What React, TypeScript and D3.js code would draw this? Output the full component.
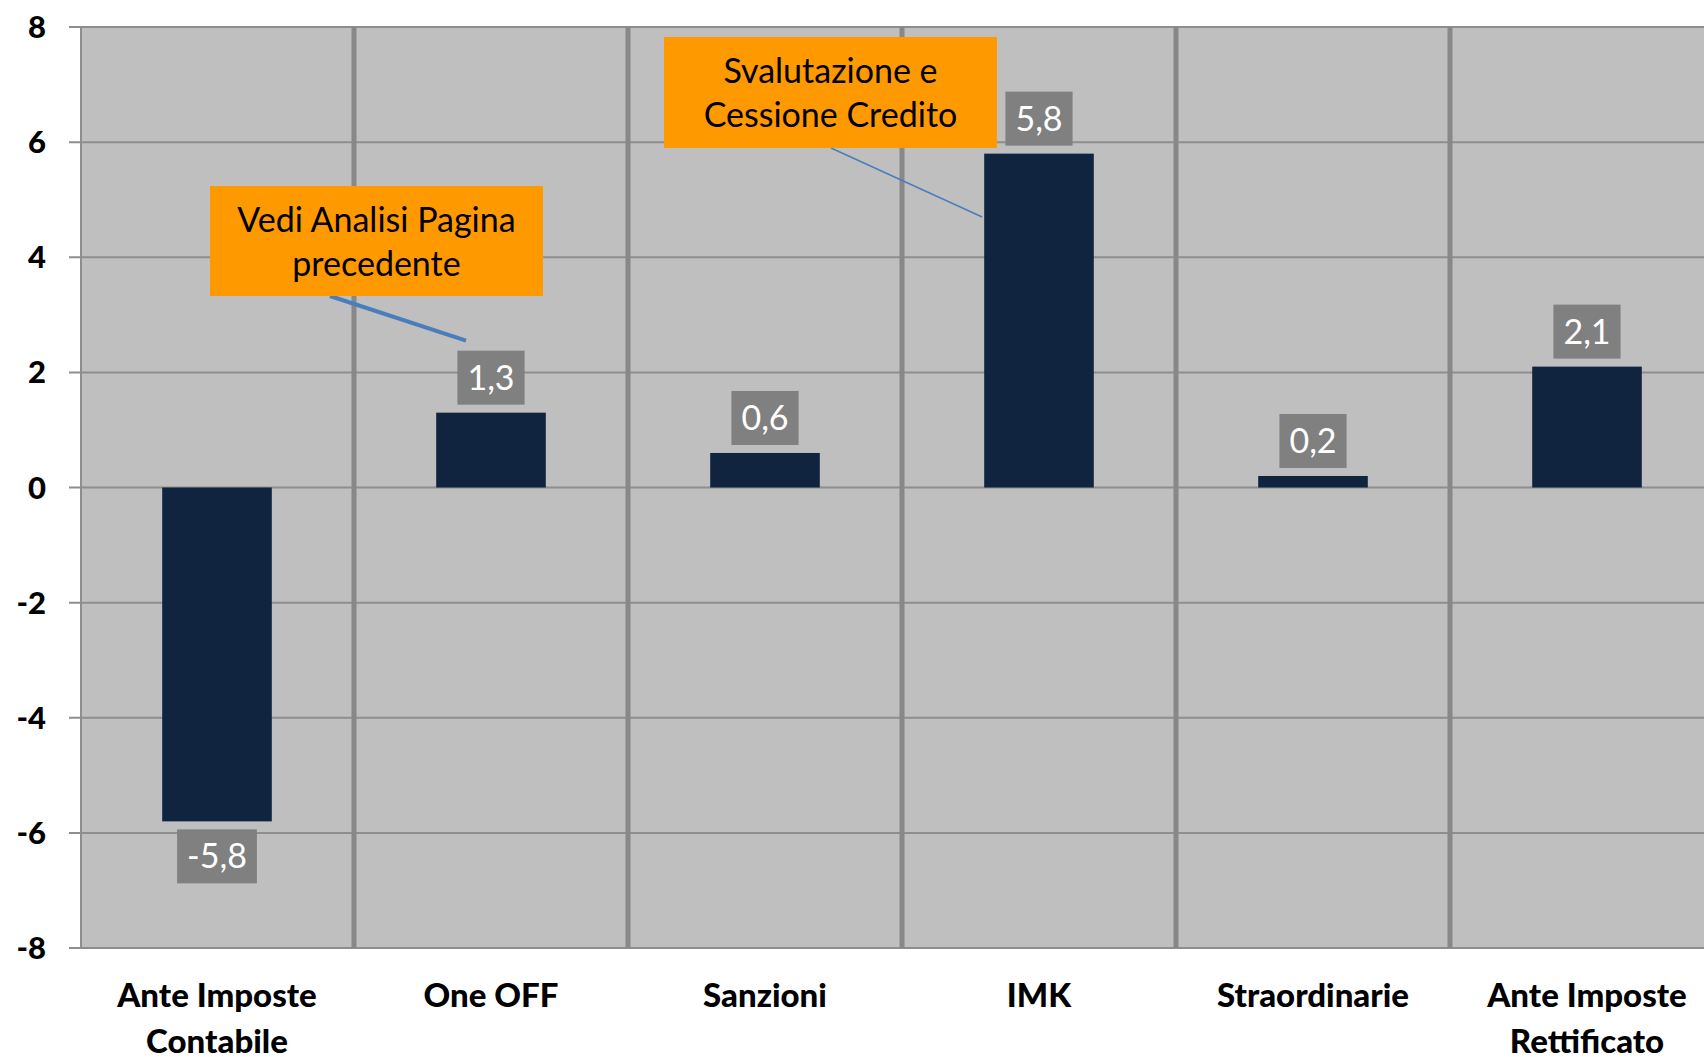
import * as d3 from "d3";
import React, { useEffect, useRef } from "react";

const W = 1704;
const H = 1057;

// data
const categories = ["Ante Imposte Contabile", "One OFF", "Sanzioni", "IMK", "Straordinarie", "Ante Imposte Rettificato"];
const categoryLines = [["Ante Imposte", "Contabile"], ["One OFF"], ["Sanzioni"], ["IMK"], ["Straordinarie"], ["Ante Imposte", "Rettificato"]];
const values = [-5.8, 1.3, 0.6, 5.8, 0.2, 2.1];
const yTicks = [-8, -6, -4, -2, 0, 2, 4, 6, 8];
const noteTexts = [["Vedi Analisi Pagina", "precedente"], ["Svalutazione e", "Cessione Credito"]];

const itLocale = d3.formatLocale({ decimal: ",", thousands: ".", grouping: [3], currency: ["€", ""], minus: "-" });
const fmt = itLocale.format(".1f");

const FONT = "Lato, 'Open Sans', sans-serif";

export default function App() {
    const svgRef = useRef<SVGSVGElement | null>(null);

    useEffect(() => {
        if (!svgRef.current) return;
        const svg = d3.select(svgRef.current);
        svg.selectAll("*").remove();

        const plotLeft = 80, plotRight = 1724, plotTop = 27, plotBottom = 948;

        const x = d3.scaleBand<string>().domain(categories).range([plotLeft, plotRight]).padding(0);
        const y = d3.scaleLinear().domain([-8, 8]).range([plotBottom, plotTop]);
        const bw = x.bandwidth() * 0.4;
        const cxOf = (c: string) => x(c)! + x.bandwidth() / 2;

        /* ---------- plot background ---------- */
        svg.append("rect")
            .attr("x", plotLeft).attr("y", plotTop)
            .attr("width", plotRight - plotLeft).attr("height", plotBottom - plotTop)
            .attr("fill", "#bfbfbf");

        /* ---------- grid ---------- */
        yTicks.forEach((t) => {
            svg.append("line")
                .attr("x1", plotLeft - 11).attr("x2", plotRight)
                .attr("y1", y(t)).attr("y2", y(t))
                .attr("stroke", "#8e8e8e").attr("stroke-width", 2);
            svg.append("text")
                .attr("x", 46).attr("y", y(t) + 11)
                .attr("text-anchor", "end")
                .attr("font-family", FONT).attr("font-weight", 900)
                .attr("font-size", 31).attr("fill", "#000")
                .text(String(t));
        });

        svg.append("line")
            .attr("x1", plotLeft + 1).attr("x2", plotLeft + 1)
            .attr("y1", plotTop).attr("y2", plotBottom)
            .attr("stroke", "#8e8e8e").attr("stroke-width", 2);

        /* ---------- category separators ---------- */
        categories.slice(1).forEach((c) => {
            svg.append("line")
                .attr("x1", x(c)!).attr("x2", x(c)!)
                .attr("y1", plotTop).attr("y2", plotBottom)
                .attr("stroke", "#888888").attr("stroke-width", 5);
        });

        /* ---------- bars ---------- */
        categories.forEach((c, i) => {
            const v = values[i];
            svg.append("rect")
                .attr("x", cxOf(c) - bw / 2)
                .attr("y", Math.min(y(v), y(0)))
                .attr("width", bw)
                .attr("height", Math.abs(y(v) - y(0)))
                .attr("fill", "#10243f");
        });

        /* ---------- data labels ---------- */
        categories.forEach((c, i) => {
            const v = values[i];
            const cx = cxOf(c);
            const bh = 54;
            const boxY = v >= 0 ? y(v) - 8 - bh : y(v) + 8;
            const g = svg.append("g");
            const rect = g.append("rect").attr("fill", "#808080");
            const txt = g.append("text")
                .attr("x", cx).attr("y", boxY + bh / 2 + 12)
                .attr("text-anchor", "middle")
                .attr("font-family", FONT).attr("font-size", 34)
                .attr("fill", "#fff")
                .text(fmt(v));
            const tw = (txt.node() as SVGTextElement).getComputedTextLength();
            const w = tw + 20;
            rect.attr("x", cx - w / 2).attr("y", boxY).attr("width", w).attr("height", bh);
        });

        /* ---------- x labels ---------- */
        categories.forEach((c, i) => {
            categoryLines[i].forEach((line, j) => {
                svg.append("text")
                    .attr("x", cxOf(c)).attr("y", 1007 + j * 46)
                    .attr("text-anchor", "middle")
                    .attr("font-family", FONT).attr("font-weight", 900)
                    .attr("font-size", 33).attr("fill", "#000")
                    .text(line);
            });
        });

        /* ---------- callouts ---------- */
        const notes = [
            { x0: 210, y0: 186, w: 333, h: 110, ax: 330, tx: cxOf("One OFF") - 25, ty: y(1.3) - 72, sw: 4 },
            { x0: 664, y0: 37, w: 333, h: 111, ax: 831, tx: cxOf("IMK") - bw / 2 - 2, ty: y(4.7), sw: 1.5 },
        ];
        notes.forEach((n, i) => {
            svg.append("line")
                .attr("x1", n.ax).attr("y1", n.y0 + n.h)
                .attr("x2", n.tx).attr("y2", n.ty)
                .attr("stroke", "#4a7ebb").attr("stroke-width", n.sw);
            svg.append("rect")
                .attr("x", n.x0).attr("y", n.y0)
                .attr("width", n.w).attr("height", n.h)
                .attr("fill", "#ff9900");
            noteTexts[i].forEach((line, j) => {
                svg.append("text")
                    .attr("x", n.x0 + n.w / 2).attr("y", n.y0 + 46 + j * 44)
                    .attr("text-anchor", "middle")
                    .attr("font-family", FONT).attr("font-size", 34)
                    .attr("fill", "#000")
                    .text(line);
            });
        });
    }, []);

    return (
        <svg
            ref={svgRef}
            width={W}
            height={H}
            viewBox={`0 0 ${W} ${H}`}
            style={{ position: "absolute", left: 0, top: 0, background: "#fff" }}
        />
    );
}
